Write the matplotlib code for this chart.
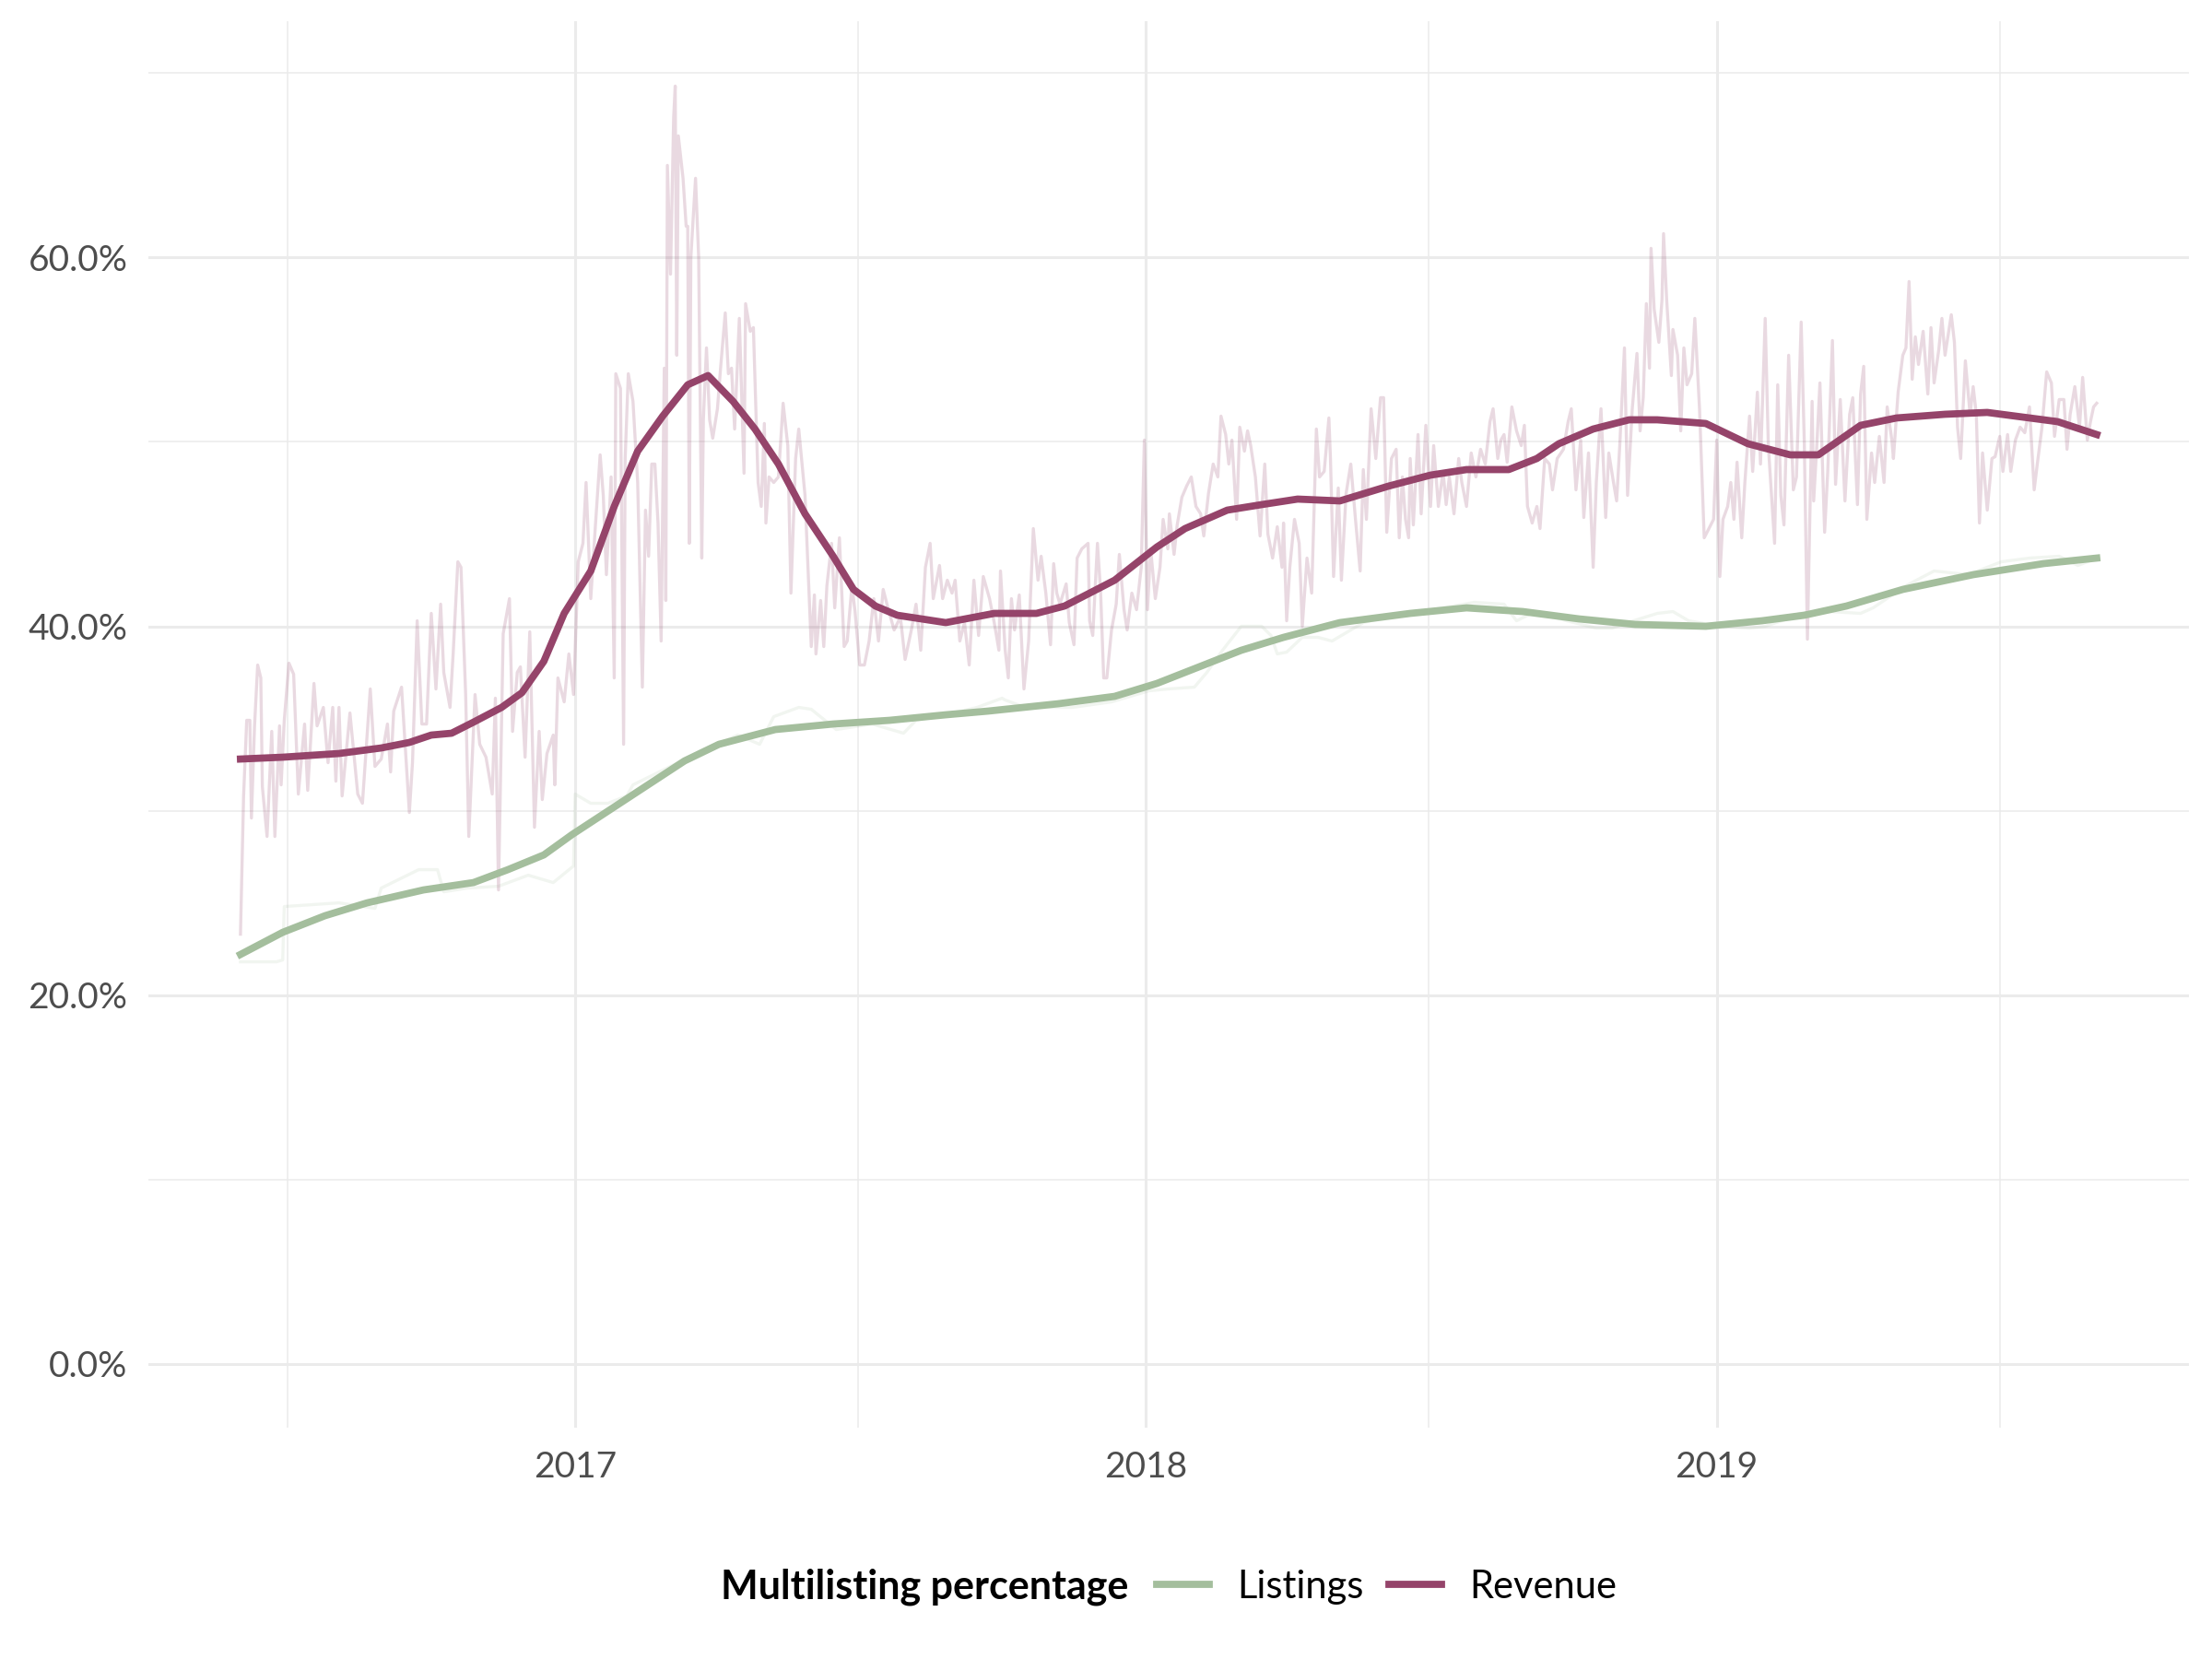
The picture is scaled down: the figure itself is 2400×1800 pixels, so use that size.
import numpy as np
import matplotlib.pyplot as plt
import matplotlib.dates as mdates
from matplotlib.ticker import FuncFormatter, MultipleLocator
from matplotlib.lines import Line2D

plt.rcParams['font.family'] = ['Lato', 'DejaVu Sans']

# days counted from 2016-06-01
start = np.datetime64('2016-06-01')

# daily revenue multilisting share (%)
rev_days = [
    0, 2, 4, 6, 7, 9, 11, 13, 14, 17,
    20, 22, 25, 26, 28, 31, 34, 37, 41, 43,
    47, 49, 53, 56, 59, 61, 63, 65, 70, 75,
    78, 83, 86, 90, 94, 96, 98, 103, 106, 108,
    110, 113, 116, 119, 122, 125, 128, 130, 134, 136,
    139, 141, 144, 146, 150, 153, 157, 161, 163, 165,
    168, 172, 174, 177, 179, 182, 185, 188, 191, 193,
    196, 200, 201, 203, 207, 210, 213, 216, 219, 221,
    224, 227, 230, 232, 234, 237, 239, 240, 243, 245,
    246, 248, 251, 254, 257, 259, 261, 263, 265, 267,
    269, 271, 272, 273, 275, 277, 278, 279, 280, 283,
    285, 286, 287, 288, 291, 293, 295, 296, 298, 300,
    302, 305, 307, 310, 312, 314, 316, 319, 322, 323,
    326, 328, 331, 333, 335, 336, 338, 341, 344, 347,
    350, 352, 355, 357, 361, 365, 367, 368, 371, 373,
    375, 378, 380, 383, 386, 388, 391, 393, 396, 399,
    402, 405, 408, 411, 414, 418, 422, 425, 429, 432,
    435, 438, 441, 443, 447, 449, 452, 455, 457, 460,
    463, 466, 469, 472, 475, 479, 482, 485, 486, 489,
    491, 493, 495, 498, 501, 504, 507, 510, 512, 515,
    518, 520, 522, 524, 528, 530, 533, 535, 538, 542,
    543, 545, 548, 550, 552, 554, 557, 560, 562, 565,
    567, 570, 573, 576, 578, 580, 582, 585, 588, 590,
    593, 594, 597, 599, 602, 605, 608, 611, 614, 616,
    619, 622, 625, 627, 630, 632, 634, 637, 639, 642,
    644, 646, 649, 652, 655, 657, 660, 663, 666, 667,
    669, 671, 674, 677, 679, 682, 685, 688, 690, 693,
    696, 697, 699, 702, 704, 707, 710, 713, 716, 718,
    720, 723, 726, 729, 731, 733, 736, 739, 741, 743,
    745, 747, 748, 750, 753, 755, 758, 761, 763, 766,
    769, 771, 773, 776, 779, 781, 784, 787, 790, 793,
    796, 799, 801, 804, 806, 808, 810, 813, 816, 819,
    821, 823, 826, 829, 831, 834, 837, 839, 842, 846,
    849, 851, 854, 857, 859, 862, 865, 867, 870, 873,
    875, 878, 880, 882, 885, 887, 890, 893, 895, 897,
    899, 901, 902, 904, 907, 909, 910, 912, 915, 916,
    919, 921, 923, 925, 928, 930, 933, 936, 939, 942,
    944, 946, 948, 951, 953, 955, 957, 960, 962, 965,
    967, 970, 972, 975, 977, 981, 983, 985, 987, 990,
    993, 995, 998, 1000, 1002, 1005, 1006, 1008, 1010, 1013,
    1015, 1018, 1020, 1023, 1026, 1029, 1031, 1034, 1036, 1038,
    1040, 1043, 1045, 1048, 1051, 1053, 1056, 1057, 1060, 1063,
    1065, 1067, 1069, 1071, 1073, 1076, 1079, 1081, 1083, 1086,
    1088, 1090, 1094, 1096, 1098, 1100, 1103, 1106, 1108, 1110,
    1112, 1114, 1117, 1120, 1122, 1125, 1127, 1130, 1132, 1135,
    1138, 1141, 1144, 1147, 1149, 1152, 1155, 1158, 1160, 1163,
    1166, 1168, 1170, 1173, 1176, 1178, 1181, 1183, 1185, 1187,
]
rev_raw = [
    23.3, 30.8, 34.9, 34.9, 29.6, 34.6, 37.9, 37.2, 31.3, 28.6,
    34.3, 28.6, 34.6, 31.4, 34.9, 38.0, 37.4, 30.9, 34.7, 31.1,
    36.9, 34.6, 35.6, 32.6, 35.6, 31.6, 35.6, 30.8, 35.3, 30.9,
    30.4, 36.6, 32.4, 32.8, 34.7, 32.1, 35.4, 36.7, 32.6, 29.9,
    32.6, 40.3, 34.7, 34.7, 40.7, 36.6, 41.2, 37.5, 35.6, 38.5,
    43.5, 43.2, 36.3, 28.6, 36.3, 33.6, 32.9, 30.9, 36.1, 25.7,
    39.6, 41.5, 34.3, 37.5, 37.8, 32.9, 39.7, 29.1, 34.3, 30.6,
    33.1, 34.1, 31.4, 37.2, 35.9, 38.5, 36.3, 43.5, 44.5, 47.8,
    41.5, 45.5, 49.3, 47.1, 42.8, 48.1, 37.2, 53.7, 52.9, 33.6,
    49.1, 53.7, 52.2, 47.8, 36.7, 46.3, 43.8, 48.8, 48.8, 45.6,
    39.2, 54.0, 41.4, 65.0, 59.1, 67.6, 69.3, 54.7, 66.6, 64.3,
    61.7, 61.7, 44.5, 60.0, 64.3, 60.0, 43.7, 51.2, 55.1, 51.2,
    50.2, 51.8, 54.0, 57.0, 53.7, 54.0, 50.7, 56.7, 48.3, 57.5,
    56.0, 56.2, 47.8, 46.5, 51.0, 45.6, 48.1, 47.8, 48.1, 52.1,
    49.8, 41.8, 49.1, 50.7, 47.1, 38.9, 41.7, 38.5, 41.4, 38.9,
    42.2, 44.5, 41.0, 44.8, 38.9, 39.2, 42.2, 40.8, 37.9, 37.9,
    39.2, 41.5, 39.2, 42.0, 41.0, 39.8, 40.5, 38.2, 39.8, 41.2,
    38.7, 43.2, 44.5, 41.5, 43.3, 41.5, 42.5, 41.8, 42.5, 39.2,
    40.2, 37.9, 42.5, 39.5, 42.7, 41.5, 40.2, 38.7, 43.0, 38.7,
    37.2, 41.5, 39.8, 41.7, 36.6, 39.2, 45.3, 42.5, 43.8, 41.8,
    39.0, 43.4, 41.8, 41.2, 42.3, 40.2, 39.0, 43.7, 44.2, 44.5,
    40.3, 39.5, 44.5, 41.9, 37.2, 37.2, 39.8, 41.2, 43.9, 40.9,
    39.8, 41.8, 40.9, 43.2, 50.1, 40.9, 44.2, 41.5, 43.2, 45.8,
    44.2, 46.1, 43.9, 45.5, 47.0, 47.6, 48.1, 46.5, 46.1, 44.9,
    47.2, 48.8, 48.1, 51.4, 50.4, 48.8, 50.1, 45.8, 50.8, 49.5,
    50.6, 49.8, 48.1, 44.9, 48.8, 45.0, 43.7, 45.4, 43.2, 45.6,
    40.3, 43.2, 45.8, 44.5, 40.0, 43.7, 41.8, 50.7, 48.1, 48.4,
    51.3, 49.1, 42.7, 47.5, 42.5, 47.2, 48.8, 45.8, 43.0, 48.5,
    45.8, 51.8, 49.1, 52.4, 52.4, 45.1, 49.1, 49.6, 44.8, 48.1,
    45.8, 44.8, 49.1, 45.5, 50.4, 46.1, 50.9, 46.5, 49.8, 46.5,
    48.4, 46.6, 48.1, 46.1, 49.1, 47.8, 46.5, 49.4, 48.1, 49.6,
    48.8, 51.1, 51.8, 49.1, 50.1, 50.4, 48.9, 51.9, 50.6, 49.8,
    50.9, 46.5, 45.6, 46.5, 45.3, 49.1, 48.8, 47.4, 49.1, 49.6,
    51.1, 51.8, 47.4, 50.1, 45.9, 49.4, 43.2, 47.8, 51.8, 45.9,
    49.4, 47.8, 46.8, 49.8, 55.1, 47.1, 51.8, 54.8, 50.6, 52.4,
    57.5, 54.0, 60.5, 57.2, 55.4, 57.7, 61.3, 57.7, 53.6, 56.1,
    54.7, 50.6, 55.1, 53.1, 53.7, 56.7, 51.8, 44.8, 45.3, 45.8,
    50.1, 42.7, 45.8, 46.5, 47.8, 45.8, 48.9, 44.8, 47.8, 51.4,
    48.4, 52.7, 48.8, 56.7, 49.8, 44.5, 53.1, 47.1, 45.5, 54.7,
    47.4, 48.1, 56.5, 50.0, 39.3, 52.2, 46.8, 49.8, 53.2, 45.1,
    48.4, 55.5, 47.7, 52.3, 46.8, 51.5, 52.4, 46.6, 52.6, 54.1,
    45.8, 49.4, 47.8, 50.3, 47.8, 51.9, 50.1, 49.1, 52.7, 54.7,
    55.1, 58.7, 53.4, 55.7, 54.2, 56.0, 52.6, 56.2, 53.2, 55.0,
    56.7, 54.7, 56.9, 55.4, 50.8, 49.1, 54.4, 51.5, 53.0, 51.5,
    45.6, 49.4, 46.3, 49.1, 49.2, 50.3, 48.4, 50.4, 48.4, 50.1,
    50.8, 50.5, 51.9, 47.4, 48.8, 50.8, 53.8, 53.2, 50.3, 52.3,
    52.3, 49.6, 51.5, 53.0, 50.8, 53.5, 50.1, 51.1, 51.9, 52.1,
]

# daily listings multilisting share (%)
lst_days = [
    0, 23, 27, 28, 63, 86, 90, 114, 126, 130,
    145, 165, 184, 200, 213, 214, 224, 235, 247, 251,
    275, 294, 318, 332, 341, 357, 365, 381, 404, 424,
    432, 451, 471, 487, 489, 502, 532, 557, 581, 593,
    610, 618, 628, 640, 653, 659, 663, 669, 679, 689,
    698, 718, 742, 749, 769, 789, 808, 816, 828, 848,
    867, 877, 887, 906, 916, 926, 946, 965, 975, 989,
    997, 1016, 1036, 1044, 1065, 1083, 1105, 1126, 1144, 1163,
    1175, 1187,
]
lst_raw = [
    21.8, 21.8, 21.9, 24.8, 25.0, 24.7, 25.8, 26.8, 26.8, 25.6,
    25.8, 25.9, 26.5, 26.1, 27.0, 30.9, 30.4, 30.4, 30.8, 31.4,
    32.4, 33.2, 34.1, 33.6, 35.1, 35.6, 35.5, 34.4, 34.7, 34.2,
    34.9, 35.2, 35.6, 36.1, 36.0, 35.6, 35.6, 35.9, 36.5, 36.6,
    36.7, 37.5, 38.7, 40.0, 40.0, 39.5, 38.5, 38.6, 39.4, 39.4,
    39.2, 40.2, 40.7, 40.7, 41.0, 41.3, 41.2, 40.3, 40.8, 40.3,
    39.9, 39.9, 40.2, 40.7, 40.8, 40.3, 40.0, 39.9, 40.0, 40.4,
    40.7, 40.8, 40.7, 41.0, 42.2, 43.0, 42.8, 43.5, 43.7, 43.8,
    43.3, 43.7,
]

# smoothed trends
rev_smooth_days = [0, 27, 63, 90, 108, 122, 135, 149, 167, 180, 194, 207, 224, 239,
                   254, 270, 286, 299, 315, 329, 344, 361, 379, 392, 406, 420, 451,
                   482, 509, 527, 559, 586, 604, 631, 653, 676, 703, 734, 761, 784,
                   811, 829, 843, 865, 888, 906, 937, 964, 991, 1009, 1036, 1059,
                   1090, 1117, 1144, 1162, 1187]
rev_smooth = [32.8, 32.9, 33.1, 33.4, 33.7, 34.1, 34.2, 34.8, 35.6, 36.4, 38.1, 40.7,
              43.0, 46.5, 49.5, 51.4, 53.1, 53.6, 52.2, 50.7, 48.8, 46.1, 43.8, 42.0,
              41.1, 40.6, 40.2, 40.7, 40.7, 41.1, 42.5, 44.3, 45.3, 46.3, 46.6, 46.9,
              46.8, 47.6, 48.2, 48.5, 48.5, 49.1, 49.9, 50.7, 51.2, 51.2, 51.0, 49.9,
              49.3, 49.3, 50.9, 51.3, 51.5, 51.6, 51.3, 51.1, 50.4]
lst_smooth_days = [0, 27, 54, 81, 117, 149, 171, 194, 212, 230, 257, 284, 306, 342,
                   379, 415, 451, 478, 523, 559, 586, 613, 640, 667, 703, 748, 784,
                   820, 856, 892, 937, 973, 1000, 1027, 1063, 1108, 1153, 1187]
lst_smooth = [22.2, 23.4, 24.3, 25.0, 25.7, 26.1, 26.8, 27.6, 28.7, 29.7, 31.2, 32.7,
              33.6, 34.4, 34.7, 34.9, 35.2, 35.4, 35.8, 36.2, 36.9, 37.8, 38.7, 39.4,
              40.2, 40.7, 41.0, 40.8, 40.4, 40.1, 40.0, 40.3, 40.6, 41.1, 42.0, 42.8,
              43.4, 43.7]

col_lst = '#A4BE9D'
col_rev = '#95446A'


def to_dates(days):
    return start + np.array(days).astype('timedelta64[D]')


fig = plt.figure(figsize=(12, 9), dpi=200)
ax = fig.add_axes([0.067, 0.1394, 0.9226, 0.8476])

ax.plot(to_dates(lst_days), lst_raw, color=col_lst, alpha=0.15, lw=1.2)
ax.plot(to_dates(rev_days), rev_raw, color=col_rev, alpha=0.2, lw=1.2)
ax.plot(to_dates(lst_smooth_days), lst_smooth, color=col_lst, lw=2.8,
        solid_joinstyle='round')
ax.plot(to_dates(rev_smooth_days), rev_smooth, color=col_rev, lw=2.8,
        solid_joinstyle='round')

ax.set_xlim(to_dates([-59])[0], to_dates([1246])[0])
ax.set_ylim(-3.47, 72.8)

ax.yaxis.set_major_locator(MultipleLocator(20))
ax.yaxis.set_minor_locator(MultipleLocator(10))
ax.yaxis.set_major_formatter(FuncFormatter(lambda v, p: f'{v:.1f}%'))
ax.xaxis.set_major_locator(mdates.YearLocator())
ax.xaxis.set_minor_locator(mdates.MonthLocator(bymonth=7))
ax.xaxis.set_major_formatter(mdates.DateFormatter('%Y'))

ax.grid(which='major', color='#EBEBEB', lw=1.1)
ax.grid(which='minor', color='#EBEBEB', lw=0.55)
ax.set_axisbelow(True)
for s in ax.spines.values():
    s.set_visible(False)
ax.tick_params(which='both', length=0, labelsize=14, labelcolor='#4D4D4D')
ax.tick_params(axis='y', pad=8)
ax.tick_params(axis='x', pad=9)

# legend at the bottom: bold title to the left of the keys
ly = 1 - 1722 / 1800
ttl = fig.text(0, ly, 'Multilisting percentage', fontsize=15.5, fontweight='bold',
               va='center', ha='left')
handles = [Line2D([], [], color=col_lst, lw=2.8), Line2D([], [], color=col_rev, lw=2.8)]
leg = fig.legend(handles, ['Listings', 'Revenue'], loc='center left',
                 bbox_to_anchor=(0, ly), ncol=2, frameon=False, fontsize=15,
                 handlelength=1.37, handletextpad=0.72, columnspacing=0.67,
                 borderpad=0, borderaxespad=0)
fig.canvas.draw()
r = fig.canvas.get_renderer()
tw = ttl.get_window_extent(r).width
lw_ = leg.get_window_extent(r).width
gap = 31
x0 = 1268 - (tw + gap + lw_) / 2
ttl.set_x(x0 / 2400)
leg.set_bbox_to_anchor(((x0 + tw + gap) / 2400, ly), transform=fig.transFigure)

fig.savefig('out.png', dpi=200)
